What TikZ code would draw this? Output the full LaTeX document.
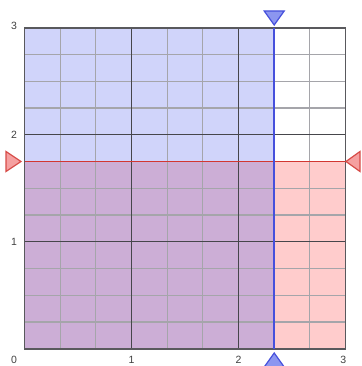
\documentclass[tikz,border=0pt]{standalone}
\usepackage{fontspec}
\setmainfont{Liberation Sans}
\definecolor{bluefill}{RGB}{208,212,250}
\definecolor{redfill}{RGB}{255,204,204}
\definecolor{purplefill}{RGB}{204,174,214}
\definecolor{minorc}{RGB}{165,165,170}
\definecolor{majorc}{RGB}{70,70,75}
\definecolor{blueline}{RGB}{70,80,220}
\definecolor{redline}{RGB}{210,55,50}
\definecolor{bluetri}{RGB}{140,150,240}
\definecolor{redtri}{RGB}{245,160,160}
\tikzset{
  minorline/.style={draw=minorc,line width=1.2pt},
  majorline/.style={draw=majorc,line width=1.3pt},
  border/.style={draw=majorc!90,line width=1.8pt},
  vline/.style={draw=blueline,line width=1.8pt},
  hline/.style={draw=redline,line width=1.8pt},
  btri/.style={fill=bluetri,draw=blueline,line width=1.2pt,line join=miter},
  rtri/.style={fill=redtri,draw=redline!90,line width=1.2pt,line join=miter},
  lab/.style={font=\fontsize{10.5}{12}\selectfont,text=black!75,inner sep=0pt}
}
\begin{document}
\begin{tikzpicture}[x=1pt,y=1pt]
\useasboundingbox (0,0) rectangle (361,366);
\begin{scope}[xshift=24.5pt,yshift=17.3pt,x=107pt,y=107pt]
  % fills
  \fill[bluefill] (0,1.75) rectangle (7/3,3);
  \fill[redfill] (7/3,0) rectangle (3,1.75);
  \fill[purplefill] (0,0) rectangle (7/3,1.75);
  % minor grid
  \foreach \i in {1,2,4,5,7,8} \draw[minorline] (\i/3,0) -- (\i/3,3);
  \foreach \j in {1,2,3,5,6,7,9,10,11} \draw[minorline] (0,\j/4) -- (3,\j/4);
  % major grid
  \foreach \k in {1,2} {
    \draw[majorline] (\k,0) -- (\k,3);
    \draw[majorline] (0,\k) -- (3,\k);
  }
  \draw[border] (0,0) rectangle (3,3);
  % lines
  \coordinate (hl) at (0,1.75);
  \coordinate (hr) at (3,1.75);
  \coordinate (vb) at (7/3,0);
  \coordinate (vt) at (7/3,3);
  \draw[hline] (hl) -- (hr);
  \draw[vline] (vb) -- (vt);
  % labels
  \node[lab] (y3) at (-0.098,3.015) {3};
  \node[lab] (y2) at (-0.098,2.0) {2};
  \node[lab] (y1) at (-0.098,1.0) {1};
  \node[lab] (o) at (-0.098,-0.1) {0};
  \node[lab] (x1) at (1.0,-0.1) {1};
  \node[lab] (x2) at (2.0,-0.1) {2};
  \node[lab] (x3) at (2.98,-0.1) {3};
\end{scope}
% triangles (pixel coordinates, y up)
\draw[btri] (264.2,355) -- (284.2,355) -- (274.2,341) -- cycle;
\draw[btri] (264.2,-1) -- (284.2,-1) -- (274.2,13) -- cycle;
\draw[rtri] (6,214.5) -- (6,194.5) -- (21,204.5) -- cycle;
\draw[rtri] (360,214.5) -- (360,194.5) -- (346,204.5) -- cycle;
\end{tikzpicture}
\end{document}
